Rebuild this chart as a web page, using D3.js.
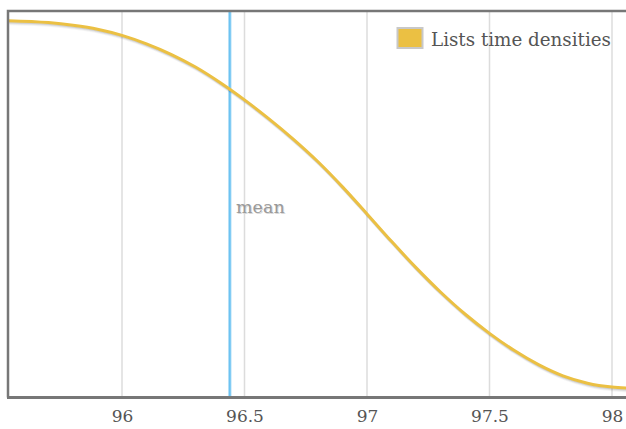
<!DOCTYPE html>
<html><head><meta charset="utf-8">
<script src="https://cdn.jsdelivr.net/npm/d3@7/dist/d3.min.js"></script>
<style>html,body{margin:0;padding:0;background:#fff;overflow:hidden}</style>
</head><body><div id="chart"></div>
<script>
// Data
const xValues = [95.535, 95.7, 95.8, 95.9, 96.0, 96.1, 96.2, 96.3, 96.4, 96.5, 96.6, 96.7, 96.8, 96.9, 97.0, 97.1, 97.2, 97.3, 97.4, 97.5, 97.6, 97.7, 97.8, 97.9, 98.0, 98.07];
const densities = [0.975, 0.970, 0.963, 0.953, 0.937, 0.915, 0.888, 0.855, 0.815, 0.770, 0.721, 0.668, 0.610, 0.545, 0.475, 0.404, 0.336, 0.273, 0.216, 0.166, 0.122, 0.085, 0.056, 0.037, 0.027, 0.024];
const tickValues = [96, 96.5, 97, 97.5, 98];
const tickLabels = ["96", "96.5", "97", "97.5", "98"];
const meanValue = 96.44;
const seriesName = "Lists time densities";
const meanLabel = "mean";

(function () {
const W = 626, H = 429;
const pLeft = 8, pTop = 11, pBottom = 397.5, pRight = 640;
const svg = d3.select("#chart").append("svg").attr("width", W).attr("height", H);

const x = d3.scaleLinear().domain([96, 98]).range([122, 612]);
const y = d3.scaleLinear().domain([0, 1]).range([pBottom, pTop]);

svg.append("defs").append("clipPath").attr("id", "clip")
  .append("rect").attr("x", pLeft).attr("y", pTop).attr("width", pRight - pLeft).attr("height", pBottom - pTop);

// grid lines
svg.append("g").selectAll("line").data(tickValues).join("line")
  .attr("x1", d => x(d)).attr("x2", d => x(d)).attr("y1", pTop).attr("y2", pBottom)
  .attr("stroke", "#dcdcdc").attr("stroke-width", 1.5);

// mean line
svg.append("line").attr("x1", x(meanValue)).attr("x2", x(meanValue)).attr("y1", pTop).attr("y2", pBottom)
  .attr("stroke", "#b8e2f8").attr("stroke-width", 3.5);
svg.append("line").attr("x1", x(meanValue)).attr("x2", x(meanValue)).attr("y1", pTop).attr("y2", pBottom)
  .attr("stroke", "#6cc3f2").attr("stroke-width", 1.8);

const data = xValues.map((v, i) => ({x: v, y: densities[i]}));
const line = d3.line().x(d => x(d.x)).y(d => y(d.y)).curve(d3.curveMonotoneX);
const g = svg.append("g").attr("clip-path", "url(#clip)");
[[3, 0.04], [2, 0.06], [1, 0.1]].forEach(([o, a]) => {
  g.append("path").datum(data).attr("d", line).attr("fill", "none")
    .attr("stroke", `rgba(0,0,0,${a})`).attr("stroke-width", 3)
    .attr("transform", `translate(${o * 0.5},${o})`);
});
g.append("path").datum(data).attr("d", line).attr("fill", "none")
  .attr("stroke", "#ebc043").attr("stroke-width", 3);

// mean label
svg.append("text").attr("x", 236).attr("y", 213).attr("fill", "#d8d8d8")
  .attr("font-family", "DejaVu Serif").attr("font-size", 17.5).text(meanLabel)
  .attr("transform", "translate(1,1)");
svg.append("text").attr("x", 236).attr("y", 213).attr("fill", "#999")
  .attr("font-family", "DejaVu Serif").attr("font-size", 17.5).text(meanLabel);

// border
svg.append("path").attr("d", `M${pLeft},${pBottom} L${pLeft},${pTop} L${W + 5},${pTop}`)
  .attr("fill", "none").attr("stroke", "#777").attr("stroke-width", 2.5);
svg.append("line").attr("x1", pLeft - 1).attr("x2", W + 5).attr("y1", pBottom).attr("y2", pBottom)
  .attr("stroke", "#777").attr("stroke-width", 3);

// axis
const axis = d3.axisBottom(x).tickValues(tickValues).tickFormat((d, i) => tickLabels[i]).tickSize(0).tickPadding(0);
const ag = svg.append("g").attr("transform", `translate(0,${pBottom})`).call(axis);
ag.select(".domain").remove();
ag.selectAll("text").attr("font-family", "DejaVu Serif").attr("font-size", 17).attr("fill", "#555").attr("dy", "1.45em");

// legend
const lg = svg.append("g");
lg.append("rect").attr("x", 397.5).attr("y", 28).attr("width", 25).attr("height", 20)
  .attr("fill", "#ebc043").attr("stroke", "#c8c8c8").attr("stroke-width", 2);
lg.append("text").attr("x", 431).attr("y", 46).attr("font-family", "DejaVu Serif")
  .attr("font-size", 18.3).attr("fill", "#555").text(seriesName);
})();
</script></body></html>
